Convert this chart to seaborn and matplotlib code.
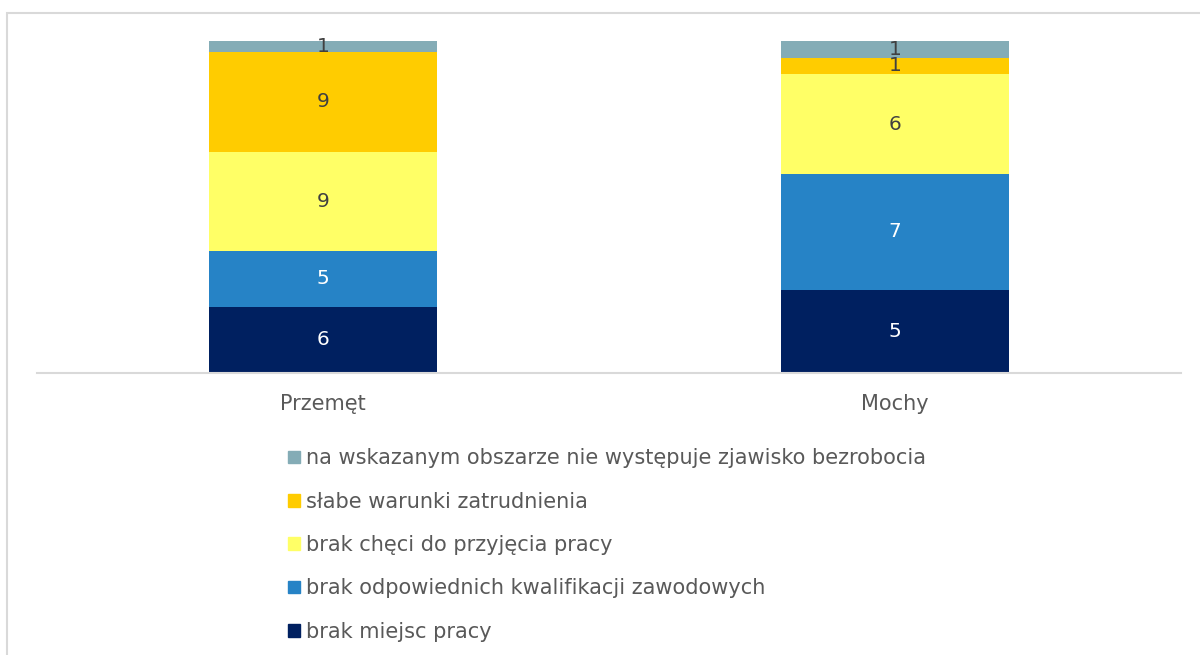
import matplotlib.pyplot as plt
import matplotlib.patches as mpatches
import seaborn as sns
import numpy as np
import pandas as pd

gminy = ["Przemęt", "Mochy"]
serie = [
    "brak miejsc pracy",
    "brak odpowiednich kwalifikacji zawodowych",
    "brak chęci do przyjęcia pracy",
    "słabe warunki zatrudnienia",
    "na wskazanym obszarze nie występuje zjawisko bezrobocia",
]
brak_miejsc = [6, 5]
brak_kwalifikacji = [5, 7]
brak_checi = [9, 6]
slabe_warunki = [9, 1]
brak_bezrobocia = [1, 1]

kolory = ["#002060", "#2683C6", "#FFFF66", "#FFCC00", "#84ACB6"]
kolory_etykiet = ["white", "white", "#404040", "#404040", "#404040"]

df = pd.DataFrame(
    [brak_miejsc, brak_kwalifikacji, brak_checi, slabe_warunki, brak_bezrobocia],
    index=serie, columns=gminy,
)
udzialy = df / df.sum(axis=0)

sns.set_style("white")
plt.rcParams['font.family'] = ['DejaVu Sans']

fig = plt.figure(figsize=(12, 6.55), dpi=100)
ax = fig.add_axes([37 / 1200, (655 - 373) / 655, 1144 / 1200, 332 / 655])

dol = np.zeros(len(gminy))
for i, s in enumerate(serie):
    sns.barplot(x=gminy, y=udzialy.loc[s].values, bottom=dol, color=kolory[i],
                width=0.4, ax=ax, saturation=1, linewidth=0)
    cont = ax.containers[-1]
    ax.bar_label(cont, labels=[str(v) for v in df.loc[s].values], label_type="center",
                 color=kolory_etykiet[i], fontsize=14.5)
    dol = dol + udzialy.loc[s].values

if ax.get_legend() is not None:
    ax.get_legend().remove()

ax.set_xlim(-0.5, 1.5)
ax.set_ylim(0, 1)
for side in ["top", "right", "left"]:
    ax.spines[side].set_visible(False)
ax.spines["bottom"].set_color("#d9d9d9")
ax.spines["bottom"].set_linewidth(1.5)
ax.set_yticks([])
ax.tick_params(axis="x", length=0, pad=15, labelsize=15, labelcolor="#595959")
ax.set_xlabel("")

uchwyty = [mpatches.Patch(color=kolory[i], label=serie[i]) for i in range(len(serie))][::-1]
fig.legend(handles=uchwyty, loc="upper left", bbox_to_anchor=(280 / 1200, 1 - 440 / 655),
           frameon=False, fontsize=15, labelcolor="#595959", handlelength=0.55,
           handleheight=0.55, handletextpad=0.3, labelspacing=1.12, borderaxespad=0)

# ramka wykresu
fig.add_artist(mpatches.Rectangle((7 / 1200, -0.1), 1.2, 1 - 13 / 655 + 0.1,
                                  transform=fig.transFigure, fill=False,
                                  edgecolor="#d9d9d9", linewidth=1.5))

fig.savefig("out.png", dpi=100)
